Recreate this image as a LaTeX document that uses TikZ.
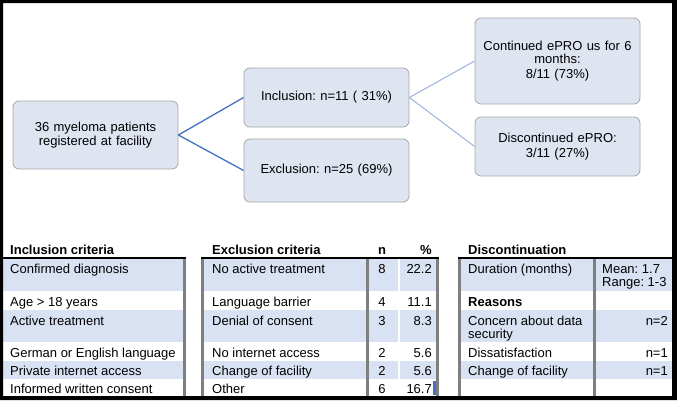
\documentclass[tikz,border=0pt]{standalone}
\usepackage{fontspec}
\setmainfont{Liberation Sans}
\frenchspacing
\definecolor{boxfill}{HTML}{DEE5F1}
\definecolor{boxline}{HTML}{A6A6A6}
\definecolor{linkA}{HTML}{4472C4}
\definecolor{linkB}{HTML}{9DB3DC}
\definecolor{rowshade}{HTML}{D9E2F3}
\definecolor{sepgray}{HTML}{7F7F7F}
\begin{document}
\begin{tikzpicture}[x=1pt,y=-1pt,
  fs/.style={font=\fontsize{13}{13.5}\selectfont\frenchspacing},
  flowbox/.style={fs, draw=boxline, fill=boxfill, rounded corners=6pt, line width=0.8pt,
    minimum width=165pt, text width=158pt, align=center, inner sep=0pt},
  linkone/.style={draw=linkA, line width=1.3pt},
  linktwo/.style={draw=linkB, line width=1pt},
  cell/.style={fs, inner sep=0pt, anchor=base west},
  cellr/.style={fs, inner sep=0pt, anchor=base east},
  cellc/.style={fs, inner sep=0pt, anchor=base},
  boldtext/.style={font=\fontsize{13}{13.5}\selectfont\bfseries, inner sep=0pt},
  head/.style={boldtext, anchor=base west},
  sepline/.style={draw=sepgray, line width=2.5pt},
  hdrline/.style={draw=black, line width=2.5pt}]
\useasboundingbox (0,0) rectangle (677,400);
\fill[white] (0,0) rectangle (677,400);

% ---------- flow chart ----------
\node[flowbox, minimum height=68pt] (pat) at (95.5,135) {36 myeloma patients\\registered at facility};
\node[flowbox, minimum height=59pt] (inc) at (326.5,97.5) {Inclusion: n=11 ( 31\%)};
\node[flowbox, minimum height=63pt] (exc) at (326.5,170.5) {Exclusion: n=25 (69\%)};
\node[flowbox, minimum height=86pt] (cont) at (557.5,61) {Continued ePRO us for 6\\months:\\[1.5pt]8/11 (73\%)};
\node[flowbox, minimum height=59pt] (disc) at (557.5,146.5) {Discontinued ePRO:\\[1pt]3/11 (27\%)};
\draw[linkone] (pat.east) -- (inc.west);
\draw[linkone] (pat.east) -- (exc.west);
\draw[linktwo] (inc.east) -- (cont.west);
\draw[linktwo] (inc.east) -- (disc.west);

% ---------- tables: shading ----------
\foreach \a/\b in {258/291,310/342,361/379}{
  \foreach \l/\r in {3/183,204/366.5,368.5/398,400/436.5,460.5/593.5,595.5/672}{
    \fill[rowshade] (\l,\a) rectangle (\r,\b);
  }
}
% separators
\draw[sepline] (184.5,258) -- (184.5,396);
\draw[sepline] (202.5,258) -- (202.5,396);
\draw[sepline] (367.5,258) -- (367.5,396);
\draw[sepline] (437.5,258) -- (437.5,396);
\draw[sepline] (459.5,258) -- (459.5,396);
\draw[sepline] (594.5,258) -- (594.5,396);
% header rules
\draw[hdrline] (3,258) -- (186,258);
\draw[hdrline] (201,258) -- (439,258);
\draw[hdrline] (458,258) -- (672,258);
% cursor mark
\fill[linkA] (433,381) rectangle (435.5,395);

% ---------- headers ----------
\node[head] (h1) at (10,254) {Inclusion criteria};
\node[head] (h2) at (212,254) {Exclusion criteria};
\node[boldtext, anchor=base] (h3) at (382,254) {n};
\node[boldtext, anchor=base east] (h4) at (432,254) {\%};
\node[head] (h5) at (468,254) {Discontinuation};

% ---------- inclusion table ----------
\node[cell] (i1) at (10,273) {Confirmed diagnosis};
\node[cell] (i2) at (10,306) {Age > 18 years};
\node[cell] (i3) at (10,325) {Active treatment};
\node[cell] (i4) at (10,357.5) {German or English language};
\node[cell] (i5) at (10,375.5) {Private internet access};
\node[cell] (i6) at (10,393.5) {Informed written consent};

% ---------- exclusion table ----------
\node[cell] (e1) at (212,273) {No active treatment};
\node[cell] (e2) at (212,306) {Language barrier};
\node[cell] (e3) at (212,325) {Denial of consent};
\node[cell] (e4) at (212,357.5) {No internet access};
\node[cell] (e5) at (212,375.5) {Change of facility};
\node[cell] (e6) at (212,393.5) {Other};
\node[cellc] (n1) at (382,273) {8};
\node[cellc] (n2) at (382,306) {4};
\node[cellc] (n3) at (382,325) {3};
\node[cellc] (n4) at (382,357.5) {2};
\node[cellc] (n5) at (382,375.5) {2};
\node[cellc] (n6) at (382,393.5) {6};
\node[cellr] (p1) at (432,273) {22.2};
\node[cellr] (p2) at (432,306) {11.1};
\node[cellr] (p3) at (432,325) {8.3};
\node[cellr] (p4) at (432,357.5) {5.6};
\node[cellr] (p5) at (432,375.5) {5.6};
\node[cellr] (p6) at (432,393.5) {16.7};

% ---------- discontinuation table ----------
\node[cell] (d1) at (468,273) {Duration (months)};
\node[cell] (d1v) at (602,273) {Mean: 1.7};
\node[cell] (d1w) at (602,286) {Range: 1-3};
\node[head] (d2) at (468,306) {Reasons};
\node[cell] (d3) at (468,325) {Concern about data};
\node[cell] (d3b) at (468,338) {security};
\node[cellr] (d3v) at (668,325) {n=2};
\node[cell] (d4) at (468,357.5) {Dissatisfaction};
\node[cellr] (d4v) at (668,357.5) {n=1};
\node[cell] (d5) at (468,375.5) {Change of facility};
\node[cellr] (d5v) at (668,375.5) {n=1};

% ---------- outer frame ----------
\fill[black, even odd rule] (0,0) rectangle (677,400) (3,3) rectangle (672,396);
\end{tikzpicture}
\end{document}
